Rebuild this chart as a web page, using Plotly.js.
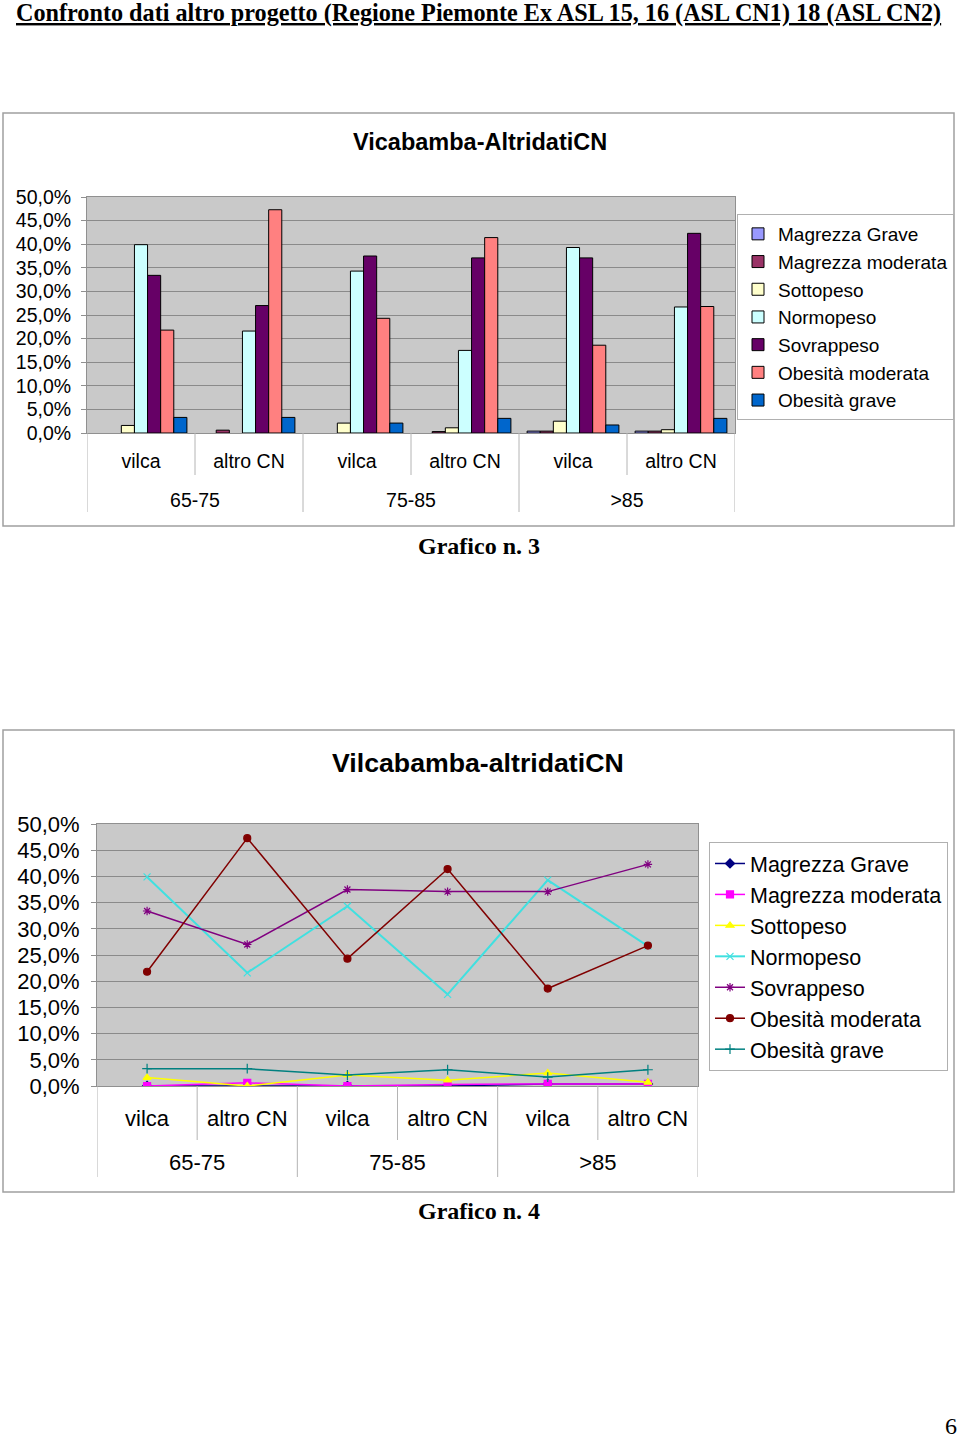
<!DOCTYPE html>
<html>
<head>
<meta charset="utf-8">
<script src="https://cdn.plot.ly/plotly-3.0.1.min.js"></script>
<style>
html,body{margin:0;padding:0;background:#fff;}
#chart{width:960px;height:1438px;}
</style>
</head>
<body>
<div id="chart"></div>
<script>
// ---- data ----
var ageGroups = ["65-75","65-75","75-85","75-85",">85",">85"];
var sources   = ["vilca","altro CN","vilca","altro CN","vilca","altro CN"];
var seriesNames = ["Magrezza Grave","Magrezza moderata","Sottopeso","Normopeso","Sovrappeso","Obesità moderata","Obesità grave"];
var magrezzaGrave     = [0.0, 0.0, 0.0, 0.0, 0.4, 0.4];
var magrezzaModerata  = [0.0, 0.6, 0.0, 0.3, 0.4, 0.4];
var sottopeso         = [1.6, 0.0, 2.1, 1.1, 2.5, 0.7];
var normopeso         = [39.9, 21.6, 34.3, 17.5, 39.3, 26.7];
var sovrappeso        = [33.4, 27.0, 37.5, 37.1, 37.1, 42.3];
var obesitaModerata   = [21.8, 47.3, 24.3, 41.4, 18.6, 26.8];
var obesitaGrave      = [3.3, 3.3, 2.1, 3.1, 1.7, 3.1];
var seriesValues = [magrezzaGrave, magrezzaModerata, sottopeso, normopeso, sovrappeso, obesitaModerata, obesitaGrave];

var pageTitle = "Confronto dati altro progetto (Regione Piemonte Ex ASL 15, 16 (ASL CN1) 18 (ASL CN2)";
var chart1Title = "Vicabamba-AltridatiCN";
var chart2Title = "Vilcabamba-altridatiCN";
var caption1 = "Grafico n. 3";
var caption2 = "Grafico n. 4";
var pageNumber = "6";

// ---- styles ----
var barColors  = ["#9999FF","#993366","#FFFFCC","#CCFFFF","#660066","#FF8080","#0066CC"];
var lineColors = ["#000080","#FF00FF","#FFFF00","#40E0E0","#800080","#800000","#008080"];
var lineSymbols = ["diamond","square","triangle-up","x-thin-open","asterisk-open","circle","cross-thin-open"];
var lineWidths = [1.5,1.5,1.5,2,1.5,1.5,1.5];

var W = 960, H = 1438;
function px(x){return x/W;}
function py(y){return 1 - y/H;}
var SANS = "Liberation Sans, Arial, sans-serif";
var SERIF = "Liberation Serif, Times New Roman, serif";

var xcat = [ageGroups, sources];
var nCat = sources.length;
var catIdx = sources.map(function(_, i){ return i; });
var groupNames = [], groupMembers = [];
ageGroups.forEach(function(g, i){
  var k = groupNames.indexOf(g);
  if (k < 0){ groupNames.push(g); groupMembers.push([i]); } else { groupMembers[k].push(i); }
});
var groupCentres = groupMembers.map(function(a){ return a.reduce(function(s,v){return s+v;},0)/a.length; });

var traces = [];
for (var i=0;i<seriesNames.length;i++){
  traces.push({
    type:"bar", name:seriesNames[i], x:xcat,
    y:seriesValues[i].map(function(v){ return v === 0 ? null : v; }),
    xaxis:"x", yaxis:"y", legend:"legend", legendgroup:"b"+i,
    marker:{color:barColors[i], line:{color:"#000", width:1}}
  });
}
for (var j=0;j<seriesNames.length;j++){
  traces.push({
    type:"scatter", mode:"lines+markers", name:seriesNames[j], x:xcat, y:seriesValues[j],
    xaxis:"x2", yaxis:"y2", legend:"legend2", legendgroup:"l"+j,
    line:{color:lineColors[j], width:lineWidths[j]},
    marker:{color:lineColors[j], symbol:lineSymbols[j], size:7, line:{color:lineColors[j], width:1.2}}
  });
}

var d1x = [px(87), px(735)], d1y = [py(433), py(197)];
var d2x = [px(97), px(698)], d2y = [py(1086), py(824)];
function catRange(){ return [-0.5, nCat - 0.5]; }

// category separators below the axis: inner ones reference the inner-label axis,
// outer (group) dividers reference the group-label axis (same range)
function separators(xrefInner, xrefOuter, yAxisPx, innerEnd, outerEnd){
  var out = [];
  for (var b=0; b<=nCat; b++){
    var isOuter = (b === 0 || b === nCat || ageGroups[b] !== ageGroups[b-1]);
    out.push({type:"line", xref:isOuter ? xrefOuter : xrefInner, yref:"paper", x0:b-0.5, x1:b-0.5,
      y0:py(yAxisPx), y1:py(isOuter ? outerEnd : innerEnd), line:{color:"#b4b4b4", width:1}});
  }
  return out;
}

var shapes = [
  {type:"rect", xref:"paper", yref:"paper", x0:px(3), x1:px(954), y0:py(526), y1:py(113), line:{color:"#a0a0a0", width:1.5}, layer:"below"},
  {type:"rect", xref:"paper", yref:"paper", x0:px(3), x1:px(954), y0:py(1192), y1:py(730), line:{color:"#a0a0a0", width:1.5}, layer:"below"}
].concat(separators("x3", "x4", 433, 475, 512)).concat(separators("x5", "x6", 1086, 1140, 1177));

function yax(domain, fs, anchor, standoff){
  return {domain:domain, anchor:anchor, range:[0,50], dtick:5, tickformat:".1f", ticksuffix:"%",
    showgrid:true, gridcolor:"#8a8a8a", gridwidth:1, showline:true, linecolor:"#909090", linewidth:1,
    ticks:"outside", ticklen:5, tickcolor:"#909090", mirror:true, zeroline:false, ticklabelstandoff:standoff,
    tickfont:{family:SANS, size:fs, color:"#000"}, fixedrange:true};
}
function xmain(domain, anchor){
  return {domain:domain, anchor:anchor, type:"multicategory", range:catRange(), showdividers:false,
    showticklabels:false, showline:true, linecolor:"#909090", linewidth:1, mirror:true, ticks:"", showgrid:false, fixedrange:true};
}
function xlabels(overlay, anchor, vals, texts, fs, standoff){
  return {overlaying:overlay, anchor:anchor, side:"bottom", type:"linear", range:catRange(),
    tickmode:"array", tickvals:vals.slice(), ticktext:texts.slice(), ticks:"", showgrid:false, zeroline:false, showline:false,
    ticklabelstandoff:standoff, tickfont:{family:SANS, size:fs, color:"#000"}, fixedrange:true};
}

var layout = {
  width:W, height:H, margin:{l:0,r:0,t:0,b:0}, paper_bgcolor:"#fff", plot_bgcolor:"#C9C9C9",
  separators:",.", barmode:"group", bargap:0.15, bargroupgap:0,
  showlegend:true,
  xaxis: xmain(d1x, "y"),
  yaxis: yax(d1y, 19.5, "x", 6),
  xaxis3: xlabels("x", "y", catIdx, sources, 19.5, 14),
  xaxis4: xlabels("x", "y", groupCentres, groupNames, 19.5, 53),
  xaxis2: xmain(d2x, "y2"),
  yaxis2: yax(d2y, 22, "x2", 7),
  xaxis5: xlabels("x2", "y2", catIdx, sources, 22, 17),
  xaxis6: xlabels("x2", "y2", groupCentres, groupNames, 22, 61),
  legend:{x:px(737), y:py(214), xanchor:"left", yanchor:"top", bgcolor:"#fff", bordercolor:"#b0b0b0", borderwidth:1,
    font:{family:SANS, size:19, color:"#000"}, traceorder:"normal", tracegroupgap:0},
  legend2:{x:px(709), y:py(842), xanchor:"left", yanchor:"top", bgcolor:"#fff", bordercolor:"#b0b0b0", borderwidth:1,
    font:{family:SANS, size:21.5, color:"#000"}, traceorder:"normal", tracegroupgap:0},
  shapes:shapes,
  annotations:[
    {text:pageTitle, xref:"paper", yref:"paper", x:px(478.5), y:py(13), xanchor:"center", yanchor:"middle", showarrow:false,
      font:{family:SERIF, size:24.2, weight:"bold", color:"#000", lineposition:"under"}},
    {text:chart1Title, xref:"paper", yref:"paper", x:px(480), y:py(142), xanchor:"center", yanchor:"middle", showarrow:false,
      font:{family:SANS, size:23.5, weight:"bold", color:"#000"}},
    {text:chart2Title, xref:"paper", yref:"paper", x:px(478), y:py(763), xanchor:"center", yanchor:"middle", showarrow:false,
      font:{family:SANS, size:26.7, weight:"bold", color:"#000"}},
    {text:caption1, xref:"paper", yref:"paper", x:px(479), y:py(546), xanchor:"center", yanchor:"middle", showarrow:false,
      font:{family:SERIF, size:24, weight:"bold", color:"#000"}},
    {text:caption2, xref:"paper", yref:"paper", x:px(479), y:py(1211), xanchor:"center", yanchor:"middle", showarrow:false,
      font:{family:SERIF, size:24, weight:"bold", color:"#000"}},
    {text:pageNumber, xref:"paper", yref:"paper", x:px(951), y:py(1426), xanchor:"center", yanchor:"middle", showarrow:false,
      font:{family:SERIF, size:24, color:"#000"}}
  ]
};

Plotly.newPlot("chart", traces, layout, {staticPlot:true, displayModeBar:false});
</script>
</body>
</html>
